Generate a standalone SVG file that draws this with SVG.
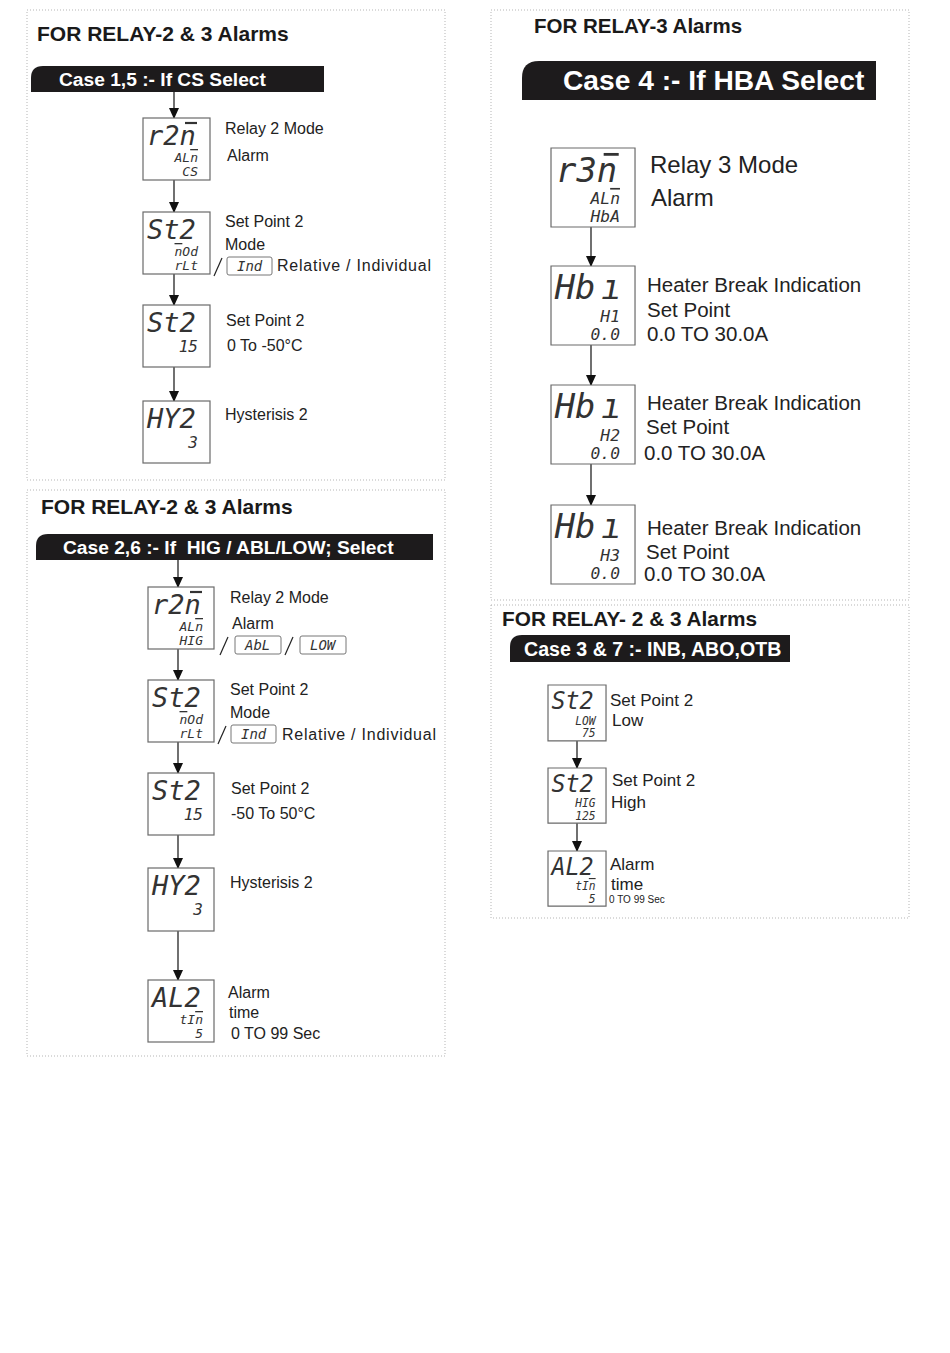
<svg xmlns="http://www.w3.org/2000/svg" width="950" height="1353" viewBox="0 0 950 1353">
<style>
.panel{fill:none;stroke:#b5b5b5;stroke-width:1;stroke-dasharray:1 2}
.title{font-family:"Liberation Sans",Arial,sans-serif;font-weight:bold;font-size:21px;fill:#1a1a1a}
.ban{fill:#1d1b1c}
.bantxt{font-family:"Liberation Sans",Arial,sans-serif;font-weight:bold;font-size:19.2px;fill:#fff}
.box{fill:#fff;stroke:#6a6a6a;stroke-width:1.2}
.big{font-family:"DejaVu Sans Mono",monospace;font-style:italic;font-size:27px;fill:#333}
.bar{stroke:#333;stroke-width:2.2}
.sm{font-family:"DejaVu Sans Mono",monospace;font-style:italic;font-size:13px;fill:#333;text-anchor:end}
.sm2{font-family:"DejaVu Sans Mono",monospace;font-style:italic;font-size:16px;fill:#333;text-anchor:end}
.ov{text-decoration:overline}
.lbl{font-family:"Liberation Sans",Arial,sans-serif;font-size:16px;fill:#222}
.lbl3{font-family:"Liberation Sans",Arial,sans-serif;font-size:20.5px;fill:#222}
.lbl3b{font-family:"Liberation Sans",Arial,sans-serif;font-size:24px;fill:#222}
.lbl4{font-family:"Liberation Sans",Arial,sans-serif;font-size:17px;fill:#222}
.tiny{font-family:"Liberation Sans",Arial,sans-serif;font-size:10px;fill:#222}
.ibox{fill:#fff;stroke:#777;stroke-width:1}
.itxt{font-family:"DejaVu Sans Mono",monospace;font-style:italic;font-size:14px;fill:#333}
.slash{stroke:#222;stroke-width:1.2}
.conn line{stroke:#111;stroke-width:1.2;marker-end:url(#ah)}
</style>
<defs>
<marker id="ah" markerWidth="10" markerHeight="12" refX="10" refY="5" orient="auto" markerUnits="userSpaceOnUse">
<path d="M0,0 L11,5 L0,10 Z" fill="#111"/>
</marker>
</defs>
<rect width="950" height="1353" fill="#fff"/>

<!-- Panels -->
<rect class="panel" x="27" y="10" width="418" height="470"/>
<rect class="panel" x="27" y="490" width="418" height="566"/>
<rect class="panel" x="491" y="10" width="418" height="590"/>
<rect class="panel" x="491" y="605" width="418" height="313"/>

<!-- Titles and banners -->
<g id="hdr1">
<text class="title" x="37" y="41">FOR RELAY-2 &amp; 3 Alarms</text>
<path class="ban" d="M31,92 L31,78 Q31,66 43,66 L324,66 L324,92 Z"/>
<text class="bantxt" x="59" y="86">Case 1,5 :- If CS Select</text>
</g>
<g id="hdr2">
<text class="title" x="41" y="514">FOR RELAY-2 &amp; 3 Alarms</text>
<path class="ban" d="M36,560 L36,546 Q36,534 48,534 L433,534 L433,560 Z"/>
<text class="bantxt" x="63" y="554" xml:space="preserve">Case 2,6 :- If  HIG / ABL/LOW; Select</text>
</g>
<g id="hdr3">
<text class="title" x="534" y="33" style="font-size:20.5px">FOR RELAY-3 Alarms</text>
<path class="ban" d="M522,100 L522,78 Q522,61 539,61 L876,61 L876,100 Z"/>
<text class="bantxt" x="563" y="90" style="font-size:28.2px">Case 4 :- If HBA Select</text>
</g>
<g id="hdr4">
<text class="title" x="502" y="626" style="font-size:20.8px">FOR RELAY- 2 &amp; 3 Alarms</text>
<path class="ban" d="M510,662 L510,647 Q510,635 522,635 L790,635 L790,662 Z"/>
<text class="bantxt" x="524" y="656" style="font-size:19.6px">Case 3 &amp; 7 :- INB, ABO,OTB</text>
</g>

<!-- Connectors -->
<g class="conn">
<line x1="174" y1="92" x2="174" y2="118"/>
<line x1="174" y1="180" x2="174" y2="212"/>
<line x1="174" y1="274" x2="174" y2="305"/>
<line x1="174" y1="367" x2="174" y2="401"/>
<line x1="178" y1="560" x2="178" y2="587"/>
<line x1="178" y1="649" x2="178" y2="680"/>
<line x1="178" y1="742" x2="178" y2="773"/>
<line x1="178" y1="835" x2="178" y2="868"/>
<line x1="178" y1="931" x2="178" y2="980"/>
<line x1="591" y1="227" x2="591" y2="266"/>
<line x1="591" y1="345" x2="591" y2="385"/>
<line x1="591" y1="464" x2="591" y2="505"/>
<line x1="577" y1="741" x2="577" y2="768"/>
<line x1="577" y1="823" x2="577" y2="851"/>
</g>

<!-- Panel 1 nodes -->
<g id="p1n1" transform="translate(143,118)">
<rect class="box" width="67" height="62"/>
<text class="big" x="4" y="27">r2n</text>
<line class="bar" x1="42" y1="5" x2="54" y2="5"/>
<text class="sm" x="55" y="44">AL<tspan class="ov">n</tspan></text>
<text class="sm" x="55" y="58">CS</text>
</g>
<g id="p1n1lbl">
<text class="lbl" x="225" y="134">Relay 2 Mode</text>
<text class="lbl" x="227" y="161">Alarm</text>
</g>
<g id="p1n2" transform="translate(143,212)">
<rect class="box" width="67" height="62"/>
<text class="big" x="4" y="27">St2</text>
<text class="sm" x="55" y="44"><tspan class="ov">n</tspan>Od</text>
<text class="sm" x="55" y="58">rLt</text>
</g>
<g id="p1n2lbl">
<text class="lbl" x="225" y="227">Set Point 2</text>
<text class="lbl" x="225" y="250">Mode</text>
<line class="slash" x1="214" y1="276" x2="222" y2="258"/>
<rect class="ibox" x="227" y="257" width="45" height="18" rx="2"/>
<text class="itxt" x="237" y="271">Ind</text>
<text class="lbl" x="277" y="271" textLength="154">Relative / Individual</text>
</g>
<g id="p1n3" transform="translate(143,305)">
<rect class="box" width="67" height="62"/>
<text class="big" x="4" y="27">St2</text>
<text class="sm2" x="55" y="47">15</text>
</g>
<g id="p1n3lbl">
<text class="lbl" x="226" y="326">Set Point 2</text>
<text class="lbl" x="227" y="351">0 To -50°C</text>
</g>
<g id="p1n4" transform="translate(143,401)">
<rect class="box" width="67" height="62"/>
<text class="big" x="4" y="27">HY2</text>
<text class="sm2" x="55" y="47">3</text>
</g>
<text id="p1n4lbl" class="lbl" x="225" y="420">Hysterisis 2</text>

<!-- Panel 2 nodes -->
<g id="p2n1" transform="translate(148,587)">
<rect class="box" width="66" height="62"/>
<text class="big" x="4" y="27">r2n</text>
<line class="bar" x1="42" y1="5" x2="54" y2="5"/>
<text class="sm" x="55" y="44">AL<tspan class="ov">n</tspan></text>
<text class="sm" x="55" y="58">HIG</text>
</g>
<g id="p2n1lbl">
<text class="lbl" x="230" y="603">Relay 2 Mode</text>
<text class="lbl" x="232" y="629">Alarm</text>
<line class="slash" x1="220" y1="655" x2="228" y2="637"/>
<rect class="ibox" x="235" y="636" width="46" height="18" rx="2"/>
<text class="itxt" x="245" y="650">AbL</text>
<line class="slash" x1="285" y1="655" x2="293" y2="637"/>
<rect class="ibox" x="300" y="636" width="46" height="18" rx="2"/>
<text class="itxt" x="310" y="650">LOW</text>
</g>
<g id="p2n2" transform="translate(148,680)">
<rect class="box" width="66" height="62"/>
<text class="big" x="4" y="27">St2</text>
<text class="sm" x="55" y="44"><tspan class="ov">n</tspan>Od</text>
<text class="sm" x="55" y="58">rLt</text>
</g>
<g id="p2n2lbl">
<text class="lbl" x="230" y="695">Set Point 2</text>
<text class="lbl" x="230" y="718">Mode</text>
<line class="slash" x1="218" y1="744" x2="226" y2="726"/>
<rect class="ibox" x="231" y="725" width="45" height="18" rx="2"/>
<text class="itxt" x="241" y="739">Ind</text>
<text class="lbl" x="282" y="740" textLength="154">Relative / Individual</text>
</g>
<g id="p2n3" transform="translate(148,773)">
<rect class="box" width="66" height="62"/>
<text class="big" x="4" y="27">St2</text>
<text class="sm2" x="55" y="47">15</text>
</g>
<g id="p2n3lbl">
<text class="lbl" x="231" y="794">Set Point 2</text>
<text class="lbl" x="231" y="819">-50 To 50°C</text>
</g>
<g id="p2n4" transform="translate(148,868)">
<rect class="box" width="66" height="63"/>
<text class="big" x="4" y="27">HY2</text>
<text class="sm2" x="55" y="47">3</text>
</g>
<text id="p2n4lbl" class="lbl" x="230" y="888">Hysterisis 2</text>
<g id="p2n5" transform="translate(148,980)">
<rect class="box" width="66" height="62"/>
<text class="big" x="4" y="27">AL2</text>
<text class="sm" x="55" y="44">tI<tspan class="ov">n</tspan></text>
<text class="sm" x="55" y="58">5</text>
</g>
<g id="p2n5lbl">
<text class="lbl" x="228" y="998">Alarm</text>
<text class="lbl" x="229" y="1018">time</text>
<text class="lbl" x="231" y="1039">0 TO 99 Sec</text>
</g>

<!-- Panel 3 nodes -->
<g id="p3n1" transform="translate(551,148) scale(1.254,1.274)">
<rect class="box" width="67" height="62" vector-effect="non-scaling-stroke"/>
<text class="big" x="4" y="27">r3n</text>
<line class="bar" x1="42" y1="5" x2="54" y2="5"/>
<text class="sm" x="55" y="44">AL<tspan class="ov">n</tspan></text>
<text class="sm" x="55" y="58">HbA</text>
</g>
<g id="p3n1lbl">
<text class="lbl3b" x="650" y="173">Relay 3 Mode</text>
<text class="lbl3b" x="651" y="206">Alarm</text>
</g>
<g id="p3n2" transform="translate(551,266) scale(1.254,1.274)">
<rect class="box" width="67" height="62" vector-effect="non-scaling-stroke"/>
<text class="big" x="3" y="26">Hb</text>
<text class="big" x="40" y="26">ı</text>
<text class="sm" x="55" y="44">H1</text>
<text class="sm" x="55" y="58">0.0</text>
</g>
<g id="p3n2lbl">
<text class="lbl3" x="647" y="292">Heater Break Indication</text>
<text class="lbl3" x="647" y="317">Set Point</text>
<text class="lbl3" x="647" y="341">0.0 TO 30.0A</text>
</g>
<g id="p3n3" transform="translate(551,385) scale(1.254,1.274)">
<rect class="box" width="67" height="62" vector-effect="non-scaling-stroke"/>
<text class="big" x="3" y="26">Hb</text>
<text class="big" x="40" y="26">ı</text>
<text class="sm" x="55" y="44">H2</text>
<text class="sm" x="55" y="58">0.0</text>
</g>
<g id="p3n3lbl">
<text class="lbl3" x="647" y="410">Heater Break Indication</text>
<text class="lbl3" x="646" y="434">Set Point</text>
<text class="lbl3" x="644" y="460">0.0 TO 30.0A</text>
</g>
<g id="p3n4" transform="translate(551,505) scale(1.254,1.274)">
<rect class="box" width="67" height="62" vector-effect="non-scaling-stroke"/>
<text class="big" x="3" y="26">Hb</text>
<text class="big" x="40" y="26">ı</text>
<text class="sm" x="55" y="44">H3</text>
<text class="sm" x="55" y="58">0.0</text>
</g>
<g id="p3n4lbl">
<text class="lbl3" x="647" y="535">Heater Break Indication</text>
<text class="lbl3" x="646" y="559">Set Point</text>
<text class="lbl3" x="644" y="581">0.0 TO 30.0A</text>
</g>

<!-- Panel 4 nodes -->
<g id="p4n1" transform="translate(548,685) scale(0.866,0.9)">
<rect class="box" width="67" height="62" vector-effect="non-scaling-stroke"/>
<text class="big" x="4" y="27">St2</text>
<text class="sm" x="55" y="44">LOW</text>
<text class="sm" x="55" y="58">75</text>
</g>
<g id="p4n1lbl">
<text class="lbl4" x="610" y="706">Set Point 2</text>
<text class="lbl4" x="612" y="726">Low</text>
</g>
<g id="p4n2" transform="translate(548,768) scale(0.866,0.89)">
<rect class="box" width="67" height="62" vector-effect="non-scaling-stroke"/>
<text class="big" x="4" y="27">St2</text>
<text class="sm" x="55" y="44">HIG</text>
<text class="sm" x="55" y="58">125</text>
</g>
<g id="p4n2lbl">
<text class="lbl4" x="612" y="786">Set Point 2</text>
<text class="lbl4" x="611" y="808">High</text>
</g>
<g id="p4n3" transform="translate(548,851) scale(0.866,0.89)">
<rect class="box" width="67" height="62" vector-effect="non-scaling-stroke"/>
<text class="big" x="4" y="27">AL2</text>
<text class="sm" x="55" y="44">tI<tspan class="ov">n</tspan></text>
<text class="sm" x="55" y="58">5</text>
</g>
<g id="p4n3lbl">
<text class="lbl4" x="610" y="870">Alarm</text>
<text class="lbl4" x="611" y="890">time</text>
<text class="tiny" x="609" y="903">0 TO 99 Sec</text>
</g>
</svg>
